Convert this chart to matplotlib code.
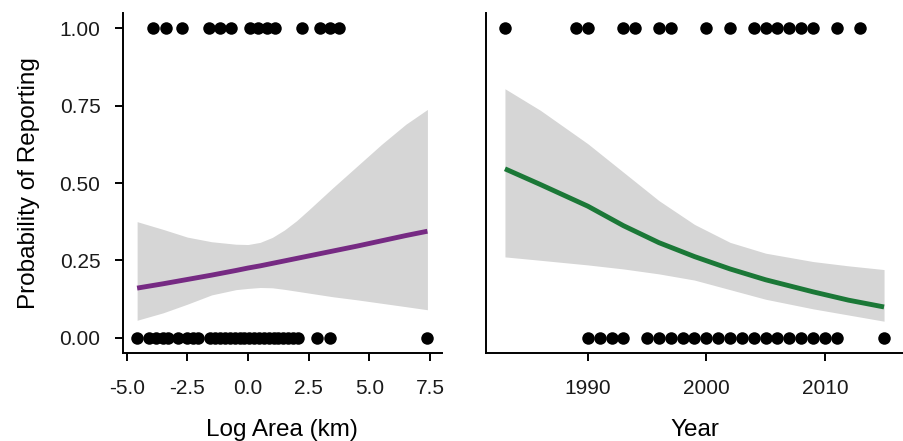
import matplotlib
matplotlib.use("Agg")
import matplotlib.pyplot as plt

plt.rcParams['font.family'] = ['Liberation Sans', 'DejaVu Sans']

# observed records: reported (1) / not reported (0)
area_yes = [-3.92, -3.39, -2.72, -1.61, -1.16, -0.71, 0.08, 0.43, 0.78, 1.11,
            2.21, 2.97, 3.36, 3.76]
area_no = [-4.57, -4.1, -3.8, -3.5, -3.3, -2.9, -2.5, -2.25, -2.06,
           -1.56, -1.35, -1.15, -0.95, -0.75, -0.55, -0.35, -0.15, 0.05, 0.25,
           0.45, 0.65, 0.85, 1.05, 1.25, 1.45, 1.65, 1.85, 2.04,
           2.83, 3.38, 7.39]

year_yes = [1983, 1989, 1990, 1993, 1994, 1996, 1997, 2000, 2002,
            2004, 2005, 2006, 2007, 2008, 2009, 2011, 2013]
year_no = [1990, 1991, 1992, 1993] + list(range(1995, 2012)) + [2015]

# fitted probability and confidence band
area_grid = [-4.57, -3.5, -2.5, -1.5, -0.5, 0.0, 0.5, 1.0, 1.5, 2.0, 2.5, 3.5, 4.5, 5.5, 6.5, 7.39]
area_fit = [0.160, 0.174, 0.188, 0.202, 0.217, 0.225, 0.232, 0.240, 0.248, 0.256, 0.264,
            0.280, 0.296, 0.313, 0.330, 0.344]
area_upper = [0.375, 0.350, 0.325, 0.310, 0.302, 0.301, 0.308, 0.324, 0.348, 0.378, 0.413,
              0.485, 0.555, 0.625, 0.690, 0.738]
area_lower = [0.056, 0.080, 0.108, 0.138, 0.155, 0.159, 0.162, 0.161, 0.156, 0.150, 0.144,
              0.132, 0.122, 0.111, 0.100, 0.090]

year_grid = [1983, 1986, 1990, 1993, 1996, 1999, 2002, 2005, 2009, 2012, 2015]
year_fit = [0.546, 0.495, 0.425, 0.362, 0.307, 0.262, 0.222, 0.187, 0.148, 0.121, 0.099]
year_upper = [0.805, 0.735, 0.627, 0.535, 0.443, 0.366, 0.308, 0.273, 0.246, 0.232, 0.220]
year_lower = [0.261, 0.250, 0.235, 0.222, 0.206, 0.186, 0.155, 0.124, 0.093, 0.073, 0.053]

band_col = "#d6d6d6"
tick_size = 15
title_size = 17.5

fig = plt.figure(figsize=(9.04, 4.41), dpi=100)
ax1 = fig.add_axes([0.1357, 0.1995, 0.3532, 0.771])
ax2 = fig.add_axes([0.5376, 0.1995, 0.4613, 0.771])

ax1.fill_between(area_grid, area_lower, area_upper, color=band_col, lw=0)
ax1.plot(area_grid, area_fit, color="#762a83", lw=3.5, solid_capstyle="butt")
ax1.plot(area_yes, [1] * len(area_yes), 'o', color="black", ms=9, mew=0)
ax1.plot(area_no, [0] * len(area_no), 'o', color="black", ms=9, mew=0)
ax1.set_xlim(-5.165, 7.99)
ax1.set_xticks([-5.0, -2.5, 0.0, 2.5, 5.0, 7.5])
ax1.set_xticklabels(["-5.0", "-2.5", "0.0", "2.5", "5.0", "7.5"])
ax1.set_yticks([0, 0.25, 0.5, 0.75, 1.0])
ax1.set_yticklabels(["0.00", "0.25", "0.50", "0.75", "1.00"])
ax1.set_xlabel("Log Area (km)", fontsize=title_size, labelpad=15)
ax1.set_ylabel("Probability of Reporting", fontsize=title_size, labelpad=14)

ax2.fill_between(year_grid, year_lower, year_upper, color=band_col, lw=0)
ax2.plot(year_grid, year_fit, color="#1b7837", lw=3.5, solid_capstyle="butt")
ax2.plot(year_yes, [1] * len(year_yes), 'o', color="black", ms=9, mew=0)
ax2.plot(year_no, [0] * len(year_no), 'o', color="black", ms=9, mew=0)
ax2.set_xlim(1981.4, 2016.6)
ax2.set_xticks([1990, 2000, 2010])
ax2.set_yticks([])
ax2.set_xlabel("Year", fontsize=title_size, labelpad=15)

for ax in [ax1, ax2]:
    ax.set_ylim(-0.05, 1.05)
    ax.spines['top'].set_visible(False)
    ax.spines['right'].set_visible(False)
    ax.spines['left'].set_linewidth(1.4)
    ax.spines['bottom'].set_linewidth(1.4)
    ax.tick_params(length=6, width=1.4, labelsize=tick_size, labelcolor="#1a1a1a")
    ax.tick_params(axis='x', pad=13)
    ax.tick_params(axis='y', pad=10)

fig.savefig("out.png", dpi=100)
